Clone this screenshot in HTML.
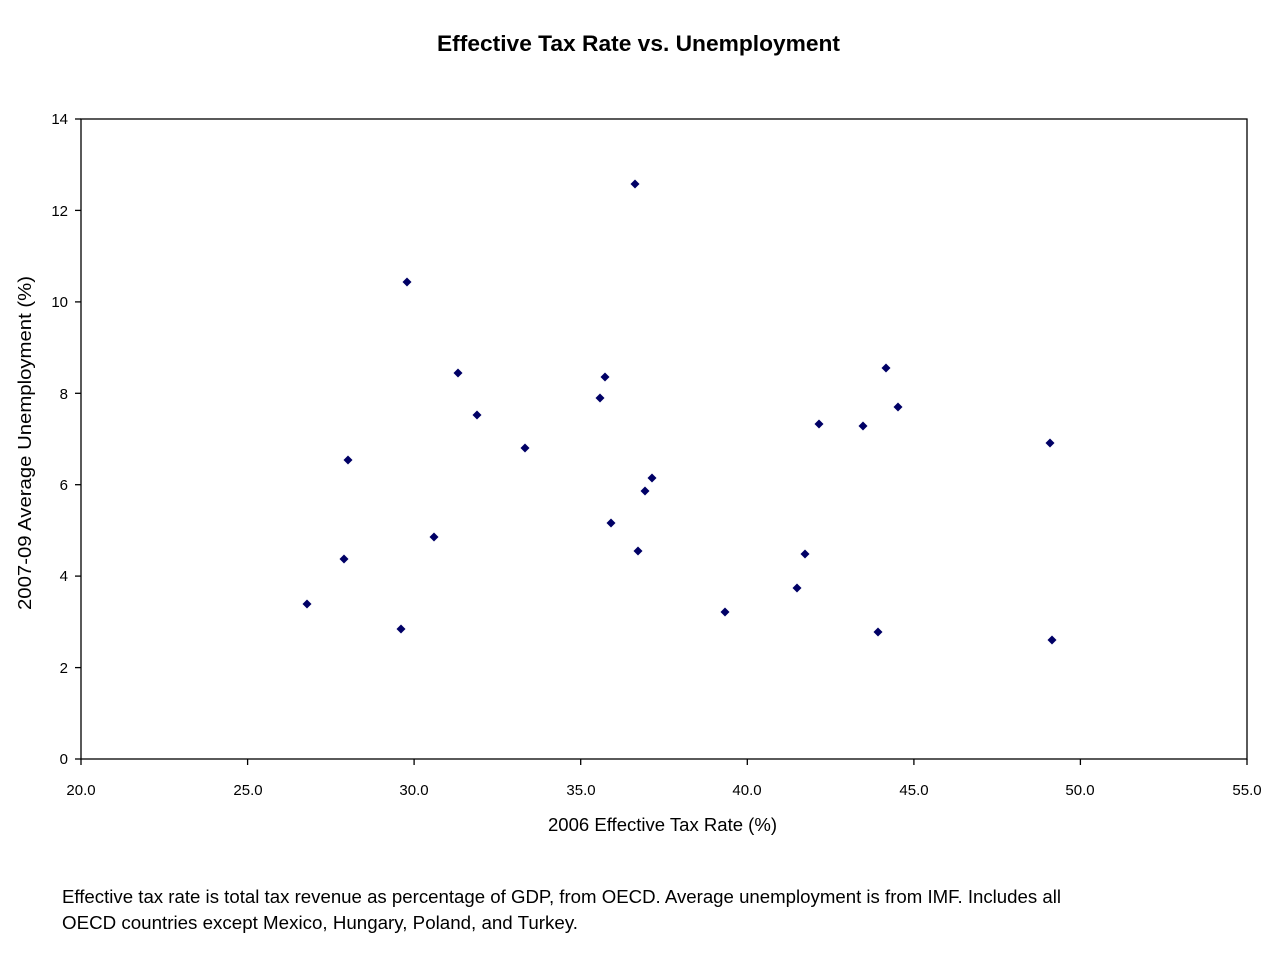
<!DOCTYPE html>
<html><head><style>
body{margin:0;background:#fff;}
svg text{font-family:"Liberation Sans",Arial,sans-serif;fill:#000;}
</style></head><body>
<svg width="1276" height="953" xmlns="http://www.w3.org/2000/svg">
<text x="437" y="51" font-size="22" font-weight="bold" textLength="403" lengthAdjust="spacingAndGlyphs">Effective Tax Rate vs. Unemployment</text>
<rect x="81" y="119" width="1166" height="640" fill="none" stroke="#000" stroke-width="1.3"/>
<g stroke="#000" stroke-width="1.3">
<line x1="75" y1="119" x2="81" y2="119"/><line x1="75" y1="210.4" x2="81" y2="210.4"/><line x1="75" y1="301.9" x2="81" y2="301.9"/><line x1="75" y1="393.3" x2="81" y2="393.3"/><line x1="75" y1="484.7" x2="81" y2="484.7"/><line x1="75" y1="576.1" x2="81" y2="576.1"/><line x1="75" y1="667.6" x2="81" y2="667.6"/><line x1="75" y1="759" x2="81" y2="759"/>
<line x1="81" y1="759" x2="81" y2="765"/><line x1="247.6" y1="759" x2="247.6" y2="765"/><line x1="414.1" y1="759" x2="414.1" y2="765"/><line x1="580.7" y1="759" x2="580.7" y2="765"/><line x1="747.3" y1="759" x2="747.3" y2="765"/><line x1="913.9" y1="759" x2="913.9" y2="765"/><line x1="1080.4" y1="759" x2="1080.4" y2="765"/><line x1="1247" y1="759" x2="1247" y2="765"/>
</g>
<g font-size="15" text-anchor="end">
<text x="68" y="124">14</text><text x="68" y="216">12</text><text x="68" y="307">10</text><text x="68" y="399">8</text><text x="68" y="490">6</text><text x="68" y="581">4</text><text x="68" y="673">2</text><text x="68" y="764">0</text>
</g>
<g font-size="15" text-anchor="middle">
<text x="81" y="795">20.0</text><text x="248" y="795">25.0</text><text x="414" y="795">30.0</text><text x="581" y="795">35.0</text><text x="747" y="795">40.0</text><text x="914" y="795">45.0</text><text x="1080" y="795">50.0</text><text x="1247" y="795">55.0</text>
</g>
<text x="548" y="831" font-size="18" textLength="229" lengthAdjust="spacingAndGlyphs">2006 Effective Tax Rate (%)</text>
<text transform="translate(31,610) rotate(-90)" font-size="18" textLength="334" lengthAdjust="spacingAndGlyphs">2007-09 Average Unemployment (%)</text>
<g fill="#000066">
<path d="M0,-4.5L4.5,0L0,4.5L-4.5,0Z" transform="translate(307,604)"/>
<path d="M0,-4.5L4.5,0L0,4.5L-4.5,0Z" transform="translate(344,559)"/>
<path d="M0,-4.5L4.5,0L0,4.5L-4.5,0Z" transform="translate(348,460)"/>
<path d="M0,-4.5L4.5,0L0,4.5L-4.5,0Z" transform="translate(401,629)"/>
<path d="M0,-4.5L4.5,0L0,4.5L-4.5,0Z" transform="translate(407,282)"/>
<path d="M0,-4.5L4.5,0L0,4.5L-4.5,0Z" transform="translate(434,537)"/>
<path d="M0,-4.5L4.5,0L0,4.5L-4.5,0Z" transform="translate(458,373)"/>
<path d="M0,-4.5L4.5,0L0,4.5L-4.5,0Z" transform="translate(477,415)"/>
<path d="M0,-4.5L4.5,0L0,4.5L-4.5,0Z" transform="translate(525,448)"/>
<path d="M0,-4.5L4.5,0L0,4.5L-4.5,0Z" transform="translate(600,398)"/>
<path d="M0,-4.5L4.5,0L0,4.5L-4.5,0Z" transform="translate(605,377)"/>
<path d="M0,-4.5L4.5,0L0,4.5L-4.5,0Z" transform="translate(611,523)"/>
<path d="M0,-4.5L4.5,0L0,4.5L-4.5,0Z" transform="translate(635,184)"/>
<path d="M0,-4.5L4.5,0L0,4.5L-4.5,0Z" transform="translate(638,551)"/>
<path d="M0,-4.5L4.5,0L0,4.5L-4.5,0Z" transform="translate(645,491)"/>
<path d="M0,-4.5L4.5,0L0,4.5L-4.5,0Z" transform="translate(652,478)"/>
<path d="M0,-4.5L4.5,0L0,4.5L-4.5,0Z" transform="translate(725,612)"/>
<path d="M0,-4.5L4.5,0L0,4.5L-4.5,0Z" transform="translate(797,588)"/>
<path d="M0,-4.5L4.5,0L0,4.5L-4.5,0Z" transform="translate(805,554)"/>
<path d="M0,-4.5L4.5,0L0,4.5L-4.5,0Z" transform="translate(819,424)"/>
<path d="M0,-4.5L4.5,0L0,4.5L-4.5,0Z" transform="translate(863,426)"/>
<path d="M0,-4.5L4.5,0L0,4.5L-4.5,0Z" transform="translate(878,632)"/>
<path d="M0,-4.5L4.5,0L0,4.5L-4.5,0Z" transform="translate(886,368)"/>
<path d="M0,-4.5L4.5,0L0,4.5L-4.5,0Z" transform="translate(898,407)"/>
<path d="M0,-4.5L4.5,0L0,4.5L-4.5,0Z" transform="translate(1050,443)"/>
<path d="M0,-4.5L4.5,0L0,4.5L-4.5,0Z" transform="translate(1052,640)"/>
</g>
<text x="62" y="903" font-size="18" textLength="999" lengthAdjust="spacingAndGlyphs">Effective tax rate is total tax revenue as percentage of GDP, from OECD. Average unemployment is from IMF. Includes all</text>
<text x="62" y="929" font-size="18" textLength="516" lengthAdjust="spacingAndGlyphs">OECD countries except Mexico, Hungary, Poland, and Turkey.</text>
</svg>
</body></html>
